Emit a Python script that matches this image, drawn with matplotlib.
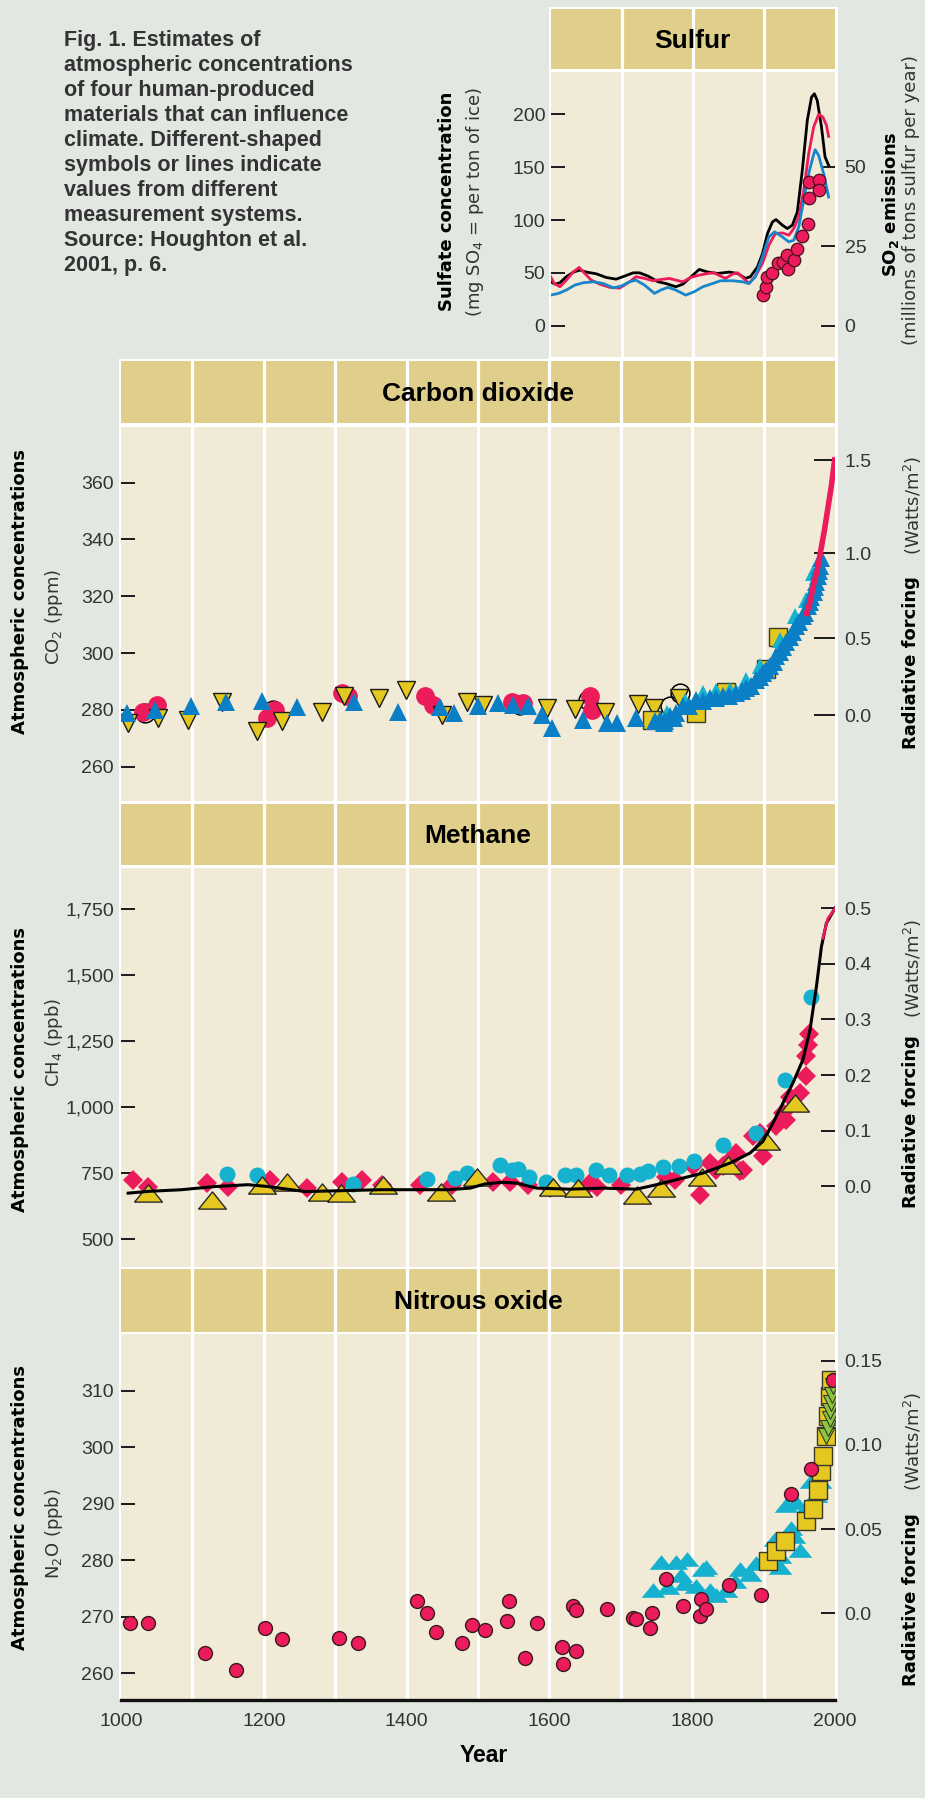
import numpy as np
import matplotlib
matplotlib.use("Agg")
import matplotlib.pyplot as plt
from matplotlib.patches import Rectangle
from matplotlib.ticker import FuncFormatter

plt.rcParams["font.family"] = ["Liberation Sans", "DejaVu Sans"]

# ---------------- Sulfur (sulfate, mg SO4 per ton of ice) ----------------
sulf_black_years = [1600, 1606, 1613, 1622, 1632, 1641, 1650, 1664, 1678, 1692, 1704, 1716,
                    1725, 1737, 1751, 1762, 1776, 1786, 1800, 1809, 1821, 1835, 1851, 1863,
                    1874, 1881, 1891, 1898, 1905, 1912, 1917, 1926, 1933, 1940, 1947, 1954,
                    1961, 1967, 1971, 1975, 1981, 1986, 1991]
sulf_black = [41.6, 39.4, 40.7, 46.4, 50.8, 52.7, 50.8, 49.2, 45.7, 44.1, 47.0, 50.1,
              50.1, 47.0, 41.6, 40.0, 36.9, 39.4, 47.9, 53.3, 50.8, 49.5, 50.8, 49.5,
              44.8, 46.4, 55.8, 68.4, 87.3, 98.3, 100.5, 95.2, 92.0, 95.2, 107.8, 147.1,
              194.4, 216.5, 219.6, 213.3, 188.1, 159.8, 151.9]
sulf_red_years = [1600, 1605, 1613, 1622, 1632, 1640, 1648, 1657, 1669, 1683, 1697, 1711,
                  1720, 1732, 1744, 1755, 1767, 1776, 1786, 1797, 1809, 1821, 1830, 1839,
                  1846, 1856, 1863, 1870, 1879, 1888, 1898, 1907, 1916, 1926, 1935, 1942,
                  1949, 1956, 1963, 1970, 1977, 1983, 1988, 1991]
sulf_red = [46.4, 40.0, 36.9, 43.2, 51.1, 55.2, 49.5, 43.2, 39.4, 36.3, 35.6, 41.6,
            46.4, 44.8, 42.6, 43.8, 44.8, 43.2, 41.6, 45.7, 47.9, 49.5, 50.1, 47.0,
            44.8, 48.9, 50.1, 45.7, 40.0, 47.0, 59.0, 76.3, 87.3, 87.9, 85.7, 92.0,
            103.1, 128.3, 162.9, 188.1, 200.1, 197.6, 189.7, 179.3]
sulf_blue_years = [1600, 1611, 1622, 1634, 1646, 1660, 1674, 1688, 1699, 1711, 1720, 1732,
                   1746, 1755, 1765, 1776, 1790, 1802, 1814, 1828, 1839, 1856, 1870, 1879,
                   1888, 1898, 1907, 1915, 1926, 1935, 1942, 1949, 1956, 1963, 1969, 1972,
                   1977, 1984, 1991]
sulf_blue = [29.0, 30.6, 33.8, 38.5, 40.7, 41.6, 40.0, 35.9, 37.5, 41.6, 43.2, 38.5,
             30.6, 33.8, 36.3, 33.8, 29.0, 32.2, 36.9, 40.0, 42.6, 42.6, 41.6, 40.0,
             46.4, 65.2, 84.1, 88.9, 84.1, 79.4, 81.0, 93.6, 118.8, 144.0, 159.8, 166.7,
             161.3, 144.0, 121.9]
so2_years = [1899, 1903, 1905, 1911, 1920, 1927, 1934, 1933, 1943, 1947, 1954, 1962,
             1963, 1964, 1977, 1978]
so2_emis = [9.8, 12.2, 15.4, 16.6, 19.6, 20.1, 17.7, 22.2, 20.8, 24.0, 28.2, 32.1,
            40.2, 45.1, 45.7, 42.6]

# ---------------- Carbon dioxide (ppm) ----------------
co2_blue_years = [1008, 1048, 1098, 1147, 1198, 1247, 1327, 1388, 1447, 1467, 1500, 1528,
                  1549, 1570, 1589, 1604, 1647, 1680, 1694, 1721, 1748, 1762, 1778,
                  1755, 1760, 1769, 1775, 1787, 1795, 1806, 1815, 1825, 1833, 1843, 1852,
                  1862, 1870, 1876, 1883, 1890, 1895, 1899, 1904, 1909, 1914, 1918, 1923,
                  1927, 1932, 1937, 1941, 1946, 1950, 1955, 1958, 1962, 1965, 1967, 1970,
                  1972, 1974, 1976, 1978, 1979, 1981]
co2_blue = [278.8, 279.8, 281.4, 282.9, 283.2, 280.9, 282.6, 279.4, 280.9, 278.8, 281.2, 282.4,
            281.8, 281.2, 278.2, 273.5, 276.5, 275.3, 275.3, 277.1, 275.9, 275.9, 278.8,
            276.5, 275.5, 277.7, 277.0, 281.2, 281.5, 283.5, 283.0, 284.1, 284.0, 284.7, 285.0,
            285.9, 286.5, 287.6, 288.5, 290.6, 291.5, 292.9, 294.0, 295.3, 297.0, 298.8, 300.5,
            302.3, 304.0, 305.8, 307.5, 309.4, 311.0, 312.9, 314.0, 316.4, 318.0, 319.9, 321.5,
            323.4, 325.0, 327.0, 329.0, 330.5, 333.4]
co2_cyan_years = [1765, 1790, 1815, 1834, 1853, 1876, 1895, 1923, 1944, 1960, 1969]
co2_cyan = [279.0, 283.0, 285.9, 286.5, 287.1, 290.6, 295.3, 304.7, 312.9, 318.7, 328.1]
co2_yellow_years = [1010, 1052, 1094, 1142, 1191, 1226, 1282, 1313, 1362, 1399, 1449, 1484,
                    1507, 1597, 1636, 1678, 1724, 1746, 1782, 1805]
co2_yellow = [275.3, 277.1, 276.5, 282.9, 272.4, 275.9, 279.4, 284.7, 284.1, 287.0, 278.2, 282.9,
              281.8, 280.6, 280.2, 279.4, 282.1, 280.6, 284.1, 279.8]
co2_red_years = [1031, 1051, 1204, 1215, 1309, 1318, 1426, 1437, 1548, 1563, 1657, 1659]
co2_red = [279.4, 281.8, 277.1, 280.0, 285.9, 284.7, 284.7, 281.8, 282.6, 282.4, 284.7, 280.0]
co2_open_years = [1034, 1213, 1559, 1654, 1769, 1783]
co2_open = [279.0, 279.8, 281.8, 283.5, 281.2, 285.9]
co2_square_years = [1744, 1805, 1847, 1903, 1920]
co2_square = [276.5, 278.8, 286.2, 294.4, 305.8]
co2_line_years = [1959, 1965, 1970, 1975, 1980, 1985, 1990, 1995, 2000]
co2_line = [313, 318, 324, 329, 336, 343, 351, 359, 369]

# ---------------- Methane (ppb) ----------------
ch4_line_years = [1010, 1040, 1085, 1132, 1178, 1206, 1230, 1258, 1290, 1318, 1365, 1410,
                  1458, 1489, 1510, 1535, 1554, 1582, 1629, 1675, 1722, 1750, 1778, 1815,
                  1853, 1881, 1899, 1913, 1927, 1941, 1955, 1965, 1974, 1981, 1988, 2000]
ch4_line = [674, 681, 687, 699, 706, 699, 690, 680, 682, 684, 687, 687,
            687, 693, 709, 715, 712, 693, 689, 693, 689, 706, 725, 750,
            788, 826, 870, 939, 1015, 1091, 1179, 1293, 1457, 1608, 1697, 1754]
ch4_red_years = [1017, 1038, 1120, 1150, 1209, 1260, 1309, 1337, 1365, 1419, 1463, 1521,
                 1545, 1570, 1601, 1657, 1666, 1700, 1764, 1776, 1801, 1811, 1825, 1834,
                 1843, 1853, 1862, 1867, 1871, 1885, 1895, 1899, 1918, 1927, 1932, 1937,
                 1951, 1960, 1960, 1962, 1964]
ch4_red = [725, 699, 712, 699, 725, 693, 718, 725, 706, 706, 706, 718,
           718, 706, 693, 712, 699, 706, 737, 725, 775, 668, 788, 763,
           775, 800, 826, 756, 763, 889, 902, 813, 927, 977, 952, 1040,
           1053, 1116, 1192, 1236, 1278]
ch4_recent_years = [1983, 1990, 2000]
ch4_recent = [1640, 1715, 1752]
ch4_cyan_years = [1148, 1191, 1325, 1429, 1468, 1484, 1531, 1547, 1556, 1572, 1595, 1622,
                  1637, 1665, 1684, 1708, 1727, 1738, 1759, 1782, 1802, 1843, 1890, 1930, 1967]
ch4_cyan = [747, 744, 709, 727, 731, 750, 781, 763, 765, 737, 718, 743,
            743, 760, 743, 743, 747, 756, 773, 778, 794, 857, 901, 1103, 1419]
ch4_yellow_years = [1038, 1127, 1197, 1233, 1281, 1308, 1367, 1448, 1498, 1605, 1640, 1722,
                    1756, 1814, 1850, 1904, 1944]
ch4_yellow = [674, 649, 706, 718, 680, 674, 706, 680, 737, 699, 693, 668,
              693, 737, 781, 870, 1015]

# ---------------- Nitrous oxide (ppb) ----------------
n2o_red_years = [1013, 1038, 1117, 1161, 1202, 1226, 1305, 1332, 1414, 1428, 1441, 1477,
                 1492, 1510, 1541, 1543, 1566, 1582, 1618, 1619, 1633, 1637, 1637, 1680,
                 1717, 1721, 1744, 1741, 1763, 1787, 1811, 1813, 1819, 1852, 1896, 1938,
                 1967, 1997]
n2o_red = [268.9, 268.9, 263.6, 260.6, 268.0, 266.0, 266.3, 265.3, 272.8, 270.7, 267.4, 265.3,
           268.6, 267.7, 269.3, 272.8, 262.7, 268.9, 264.6, 261.7, 271.9, 271.2, 264.0, 271.4,
           269.8, 269.6, 270.6, 268.0, 276.7, 271.9, 270.1, 273.1, 271.3, 275.7, 273.8, 291.8,
           296.2, 311.9]
n2o_cyan_years = [1745, 1757, 1766, 1777, 1785, 1790, 1793, 1806, 1815, 1820, 1825, 1834,
                  1847, 1860, 1867, 1881, 1890, 1899, 1916, 1923, 1923, 1932, 1939, 1943,
                  1951, 1946, 1962, 1973, 1967, 1979]
n2o_cyan = [274.7, 279.7, 275.3, 279.7, 277.4, 275.9, 280.3, 275.5, 278.4, 278.8, 274.8, 273.9,
            274.7, 276.3, 278.4, 277.6, 279.5, 279.8, 283.7, 278.8, 280.7, 289.8, 285.7, 284.3,
            281.8, 290.3, 289.8, 291.6, 294.1, 294.1]
n2o_square_years = [1906, 1918, 1930, 1960, 1969, 1976, 1981, 1983, 1988, 1990, 1993, 1995]
n2o_square = [279.8, 281.6, 283.4, 286.9, 289.0, 292.5, 295.7, 298.4, 301.9, 305.5, 309.0, 311.9]
n2o_green_years = [1988, 1990, 1993, 1993, 1995, 1996, 1997]
n2o_green = [301.9, 303.4, 304.9, 306.3, 307.8, 309.3, 310.8]

caption = ("Fig. 1. Estimates of\natmospheric concentrations\nof four human-produced\n"
           "materials that can influence\nclimate. Different-shaped\nsymbols or lines indicate\n"
           "values from different\nmeasurement systems.\nSource: Houghton et al.\n2001, p. 6.")

BG = "#e2e7e2"
HEAD = "#e0cf8b"
PLOT = "#f0ead7"
RED = "#ec1b5c"
BLUE = "#0a7fc6"
CYAN = "#16b1cf"
YELLOW = "#e5c81f"
GREEN = "#8cc63f"
TICKC = "#333333"
SQUAT = [(-1, -0.62), (1, -0.62), (0, 0.62), (-1, -0.62)]

W, H = 925, 1798
fig = plt.figure(figsize=(W / 100, H / 100), dpi=100, facecolor=BG)


def box(x0, y0, x1, y1):
    return [x0 / W, 1 - y1 / H, (x1 - x0) / W, (y1 - y0) / H]


def white_back(x0, y0, x1, y1):
    fig.add_artist(Rectangle((x0 / W, 1 - y1 / H), (x1 - x0) / W, (y1 - y0) / H,
                             transform=fig.transFigure, facecolor="white",
                             edgecolor="none", zorder=-5))


def clean(a):
    for s in a.spines.values():
        s.set_visible(False)


def panel(x0, x1, head, plot, xlim, title):
    grid = range(xlim[0] + 100, xlim[1], 100)
    hax = fig.add_axes(box(x0, head[0], x1, head[1]))
    hax.set_facecolor(HEAD)
    hax.set_xlim(xlim)
    hax.set_ylim(0, 1)
    hax.set_xticks([])
    hax.set_yticks([])
    clean(hax)
    for g in grid:
        hax.axvline(g, color="white", lw=2.3)
    hax.text(0.5, 0.47, title, transform=hax.transAxes, ha="center", va="center",
             fontsize=19, fontweight="bold", color="black")

    ax = fig.add_axes(box(x0, plot[0], x1, plot[1]))
    ax.set_facecolor(PLOT)
    ax.set_xlim(xlim)
    clean(ax)
    for g in grid:
        ax.axvline(g, color="white", lw=2.3, zorder=1)
    ax.set_xticks([])
    ax.tick_params(axis="y", direction="in", length=10, width=1.4, color="#1a1a1a",
                   labelcolor=TICKC, labelsize=14, pad=5)
    return ax


def right_axis(ax, fwd, inv, ticks, labels, length=10):
    sec = ax.secondary_yaxis("right", functions=(fwd, inv))
    sec.set_yticks(ticks)
    sec.set_yticklabels(labels)
    clean(sec)
    sec.tick_params(direction="in", length=length, width=1.4, color="#1a1a1a",
                    labelcolor=TICKC, labelsize=14, pad=7)
    return sec


def vlabel(x, y, s, bold=False, ha="center", size=13):
    fig.text(x / W, 1 - y / H, s, rotation=90, ha=ha, va="center", fontsize=size,
             fontweight="bold" if bold else "normal", family="DejaVu Sans",
             color="black" if bold else "#333333")


# column backgrounds
white_back(548.5, 7, 837.5, 359)
white_back(118.5, 358.5, 837.5, 1700)

# ---- Sulfur
ax = panel(550.7, 835, (9.3, 69), (71.5, 357), (1600, 2000), "Sulfur")
ax.set_ylim(-29.6, 240.7)
ax.set_yticks([0, 50, 100, 150, 200])
ax.tick_params(axis="y", pad=4)
ax.plot(sulf_black_years, sulf_black, color="black", lw=2.0, zorder=3)
ax.plot(sulf_red_years, sulf_red, color=RED, lw=2.0, zorder=3)
ax.plot(sulf_blue_years, sulf_blue, color="#1985cb", lw=2.0, zorder=3)
so2_fwd = lambda v: v / 3.013
so2_inv = lambda v: v * 3.013
ax.plot(so2_years, so2_inv(np.array(so2_emis)), "o", ms=9, mfc=RED, mec="#4a1020",
        mew=0.9, zorder=4)
right_axis(ax, so2_fwd, so2_inv, [0, 25, 50], ["0", "25", "50"])

# ---- Carbon dioxide
ax = panel(121, 835, (361, 423), (426.5, 801.5), (1000, 2000), "Carbon dioxide")
ax.set_ylim(247.7, 379.8)
ax.set_yticks([260, 280, 300, 320, 340, 360])
ax.plot(co2_open_years, co2_open, "o", ms=13.5, mfc="none", mec="black", mew=1.1, zorder=3)
ax.plot(co2_red_years, co2_red, "o", ms=13.5, color=RED, mew=0, zorder=3)
ax.plot(co2_yellow_years, co2_yellow, "v", ms=13.5, mfc=YELLOW, mec="#1a1a1a", mew=1.0, zorder=4)
ax.plot(co2_square_years, co2_square, "s", ms=13, mfc=YELLOW, mec="#3a3a2a", mew=1.0, zorder=4)
ax.plot(co2_cyan_years, co2_cyan, "^", ms=12, color=CYAN, mew=0, zorder=4)
ax.plot(co2_blue_years, co2_blue, "^", ms=12.5, color=BLUE, mew=0, zorder=5)
ax.plot(co2_line_years, co2_line, color=RED, lw=4, zorder=6, solid_capstyle="butt")
right_axis(ax, lambda c: 5.35 * np.log(c / 278.0), lambda f: 278.0 * np.exp(f / 5.35),
           [0.0, 0.5, 1.0, 1.5], ["0.0", "0.5", "1.0", "1.5"], length=15)

# ---- Methane
ax = panel(121, 835, (803.5, 865.5), (868, 1266.5), (1000, 2000), "Methane")
ax.set_ylim(396, 1906)
ax.set_yticks([500, 750, 1000, 1250, 1500, 1750])
ax.yaxis.set_major_formatter(FuncFormatter(lambda v, p: f"{int(v):,}"))
ax.plot(ch4_red_years, ch4_red, "D", ms=10, color=RED, mew=0, zorder=3)
ax.plot(ch4_cyan_years, ch4_cyan, "o", ms=11.5, color=CYAN, mew=0, zorder=3)
ax.plot(ch4_yellow_years, ch4_yellow, marker=SQUAT, ls="none", ms=20, mfc=YELLOW,
        mec="#2a2a2a", mew=1.0, zorder=4)
ax.plot(ch4_line_years, ch4_line, color="black", lw=2.2, zorder=5)
ax.plot(ch4_recent_years, ch4_recent, color=RED, lw=2.0, zorder=5)
right_axis(ax, lambda m: (m - 700.0) / 2108.0, lambda f: f * 2108.0 + 700.0,
           [0.0, 0.1, 0.2, 0.3, 0.4, 0.5], ["0.0", "0.1", "0.2", "0.3", "0.4", "0.5"])

# ---- Nitrous oxide
ax = panel(121, 835, (1268.5, 1331.5), (1334, 1700), (1000, 2000), "Nitrous oxide")
ax.set_ylim(255.3, 320)
ax.set_yticks([260, 270, 280, 290, 300, 310])
ax.plot(n2o_cyan_years, n2o_cyan, marker=SQUAT, ls="none", ms=17, color=CYAN, mew=0, zorder=3)
ax.plot(n2o_square_years, n2o_square, "s", ms=13, mfc=YELLOW, mec="#3a3a2a", mew=1.0, zorder=4)
ax.plot(n2o_green_years, n2o_green, "v", ms=11, mfc=GREEN, mec="#3a3a2a", mew=0.8, zorder=5)
ax.plot(n2o_red_years, n2o_red, "o", ms=10, mfc=RED, mec="#3a1a20", mew=1.0, zorder=6)
right_axis(ax, lambda n: (n - 270.6) / 298.0, lambda f: f * 298.0 + 270.6,
           [0.0, 0.05, 0.10, 0.15], ["0.0", "0.05", "0.10", "0.15"])
ax.spines["bottom"].set_visible(True)
ax.spines["bottom"].set_linewidth(2.4)
ax.spines["bottom"].set_color("#111111")
ax.set_xticks(range(1000, 2001, 200))
ax.tick_params(axis="x", length=0, labelsize=14, labelcolor=TICKC, pad=9)

fig.text(484 / W, 1 - 1756 / H, "Year", ha="center", va="center", fontsize=16.5,
         fontweight="bold")

# caption
fig.text(64 / W, 1 - 30 / H, caption, ha="left", va="top", fontsize=15.5,
         fontweight="bold", color="#333333", linespacing=1.25)

# left axis labels
vlabel(447, 201, "Sulfate concentration", bold=True)
vlabel(475, 202, "(mg SO$_4$ = per ton of ice)")
for yb, yr, unit in [(591, 617, "CO$_2$ (ppm)"), (1070, 1042, "CH$_4$ (ppb)"),
                     (1508, 1534, "N$_2$O (ppb)")]:
    vlabel(20, yb, "Atmospheric concentrations", bold=True)
    vlabel(54, yr, unit)

# right axis labels
vlabel(880, 204, r"SO$_\mathbf{2}$ emissions", bold=True, ha="left")
vlabel(902, 200, "(millions of tons sulfur per year)", ha="left")
for yb, yw in [(663, 505), (1122, 968), (1600, 1441)]:
    vlabel(902, yb, "Radiative forcing", bold=True, ha="left")
    vlabel(902, yw, "(Watts/m$^2$)", ha="left")

fig.savefig("out.png", dpi=100, facecolor=BG)
